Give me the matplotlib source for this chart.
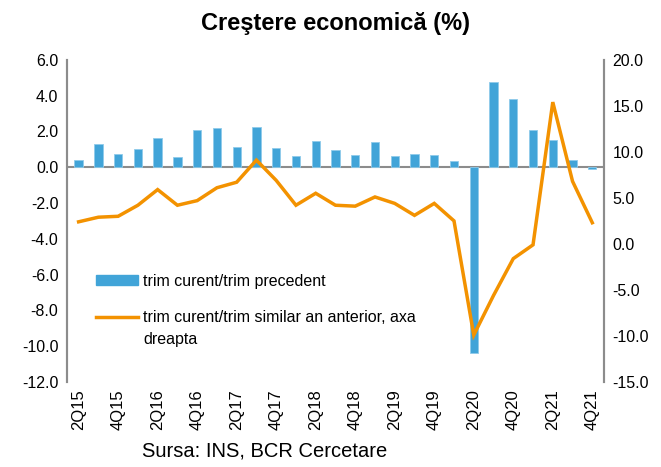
import numpy as np
import matplotlib.pyplot as plt
from matplotlib.lines import Line2D
from matplotlib.patches import Patch

plt.rcParams['font.family'] = ['Liberation Sans', 'DejaVu Sans']

# trimestre 2Q15 .. 4Q21
quarters = []
for y in range(15, 22):
    for q in range(1, 5):
        quarters.append(f"{q}Q{y}")
quarters = quarters[1:]

# trim curent / trim precedent (%)
qoq = [0.4, 1.3, 0.75, 1.0, 1.65, 0.55, 2.05, 2.2, 1.1, 2.25, 1.05, 0.6, 1.45,
       0.95, 0.7, 1.4, 0.65, 0.75, 0.7, 0.35, -10.4, 4.75, 3.8, 2.05, 1.5, 0.4, -0.1]
# trim curent / trim similar an anterior (%), axa dreapta
yoy = [2.4, 2.9, 3.0, 4.2, 5.9, 4.2, 4.7, 6.1, 6.7, 9.1, 6.9, 4.2, 5.5,
       4.2, 4.1, 5.1, 4.4, 3.1, 4.4, 2.5, -9.9, -5.6, -1.6, -0.1, 15.4, 6.8, 2.3]

blue = '#41a4d8'
orange = '#f39200'
grey = '#8c8c8c'

fig = plt.figure(figsize=(6.61, 4.67), dpi=100)
ax = fig.add_axes([0.101, 0.182, 0.813, 0.69])
ax2 = ax.twinx()

x = np.arange(len(quarters))
ax.bar(x, qoq, width=0.42, color=blue, edgecolor='#8fcbea', linewidth=0.6, zorder=2)
ax.axhline(0, color=grey, lw=1.5, zorder=1)
ax2.plot(x, yoy, color=orange, lw=2.5, solid_joinstyle='miter')

ax.set_xlim(-0.6, len(quarters) - 0.4)
ax.set_ylim(-12, 6)
ax.set_yticks(np.arange(-12, 7, 2))
ax.set_yticklabels([f"{v:.1f}" for v in np.arange(-12, 7, 2)])
ax2.set_ylim(-15, 20)
ax2.set_yticks(np.arange(-15, 21, 5))
ax2.set_yticklabels([f"{v:.1f}" for v in np.arange(-15, 21, 5)])

ax.set_xticks(x[::2])
ax.set_xticklabels(quarters[::2], rotation=90)

for a in (ax, ax2):
    a.spines['top'].set_visible(False)
    a.spines['bottom'].set_visible(False)
    a.spines['left'].set_color(grey)
    a.spines['right'].set_color(grey)
    a.spines['left'].set_linewidth(1.5)
    a.spines['right'].set_linewidth(1.5)
    a.tick_params(length=0, labelsize=11.5, pad=6)
ax.tick_params(axis='x', pad=5, labelsize=12)

fig.text(0.507, 0.95, 'Creştere economică (%)', ha='center', va='center',
         fontsize=17, fontweight='bold')
fig.text(0.4, 0.035, 'Sursa: INS, BCR Cercetare', ha='center', va='center',
         fontsize=14.5)

handles = [Patch(facecolor=blue, edgecolor=blue),
           Line2D([0], [0], color=orange, lw=2.5)]
labels = ['trim curent/trim precedent',
          'trim curent/trim similar an anterior, axa']
fig.legend(handles, labels, loc='upper left', bbox_to_anchor=(0.136, 0.428),
           frameon=False, fontsize=11.5, handlelength=2.6, handleheight=0.55,
           labelspacing=1.35, handletextpad=0.35, borderaxespad=0)
fig.text(0.217, 0.274, 'dreapta', ha='left', va='center', fontsize=11.5)

fig.savefig('out.png', dpi=100)
